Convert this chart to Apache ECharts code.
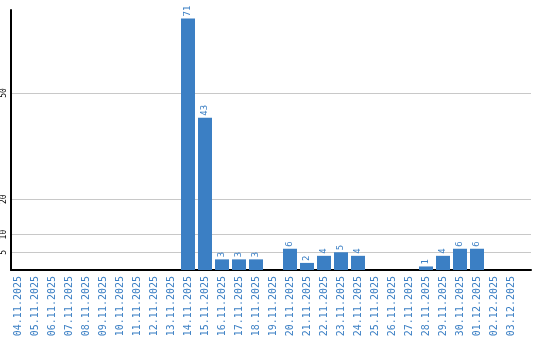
<!DOCTYPE html>
<html><head><meta charset="utf-8">
<script src="https://cdn.jsdelivr.net/npm/echarts@6/dist/echarts.min.js"></script>
<style>html,body{margin:0;padding:0;background:#fff}#c{width:540px;height:340px}</style>
</head><body><div id="c"></div>
<script>
const categories = ['04.11.2025','05.11.2025','06.11.2025','07.11.2025','08.11.2025','09.11.2025','10.11.2025','11.11.2025','12.11.2025','13.11.2025','14.11.2025','15.11.2025','16.11.2025','17.11.2025','18.11.2025','19.11.2025','20.11.2025','21.11.2025','22.11.2025','23.11.2025','24.11.2025','25.11.2025','26.11.2025','27.11.2025','28.11.2025','29.11.2025','30.11.2025','01.12.2025','02.12.2025','03.12.2025'];
const values = [0,0,0,0,0,0,0,0,0,0,71,43,3,3,3,0,6,2,4,5,4,0,0,0,1,4,6,6,0,0];
const yTicks = [5,10,20,50];
const yMax = 73.4;

const blue = '#3b7fc4';
const mono = 'DejaVu Sans Mono';
const chart = echarts.init(document.getElementById('c'), null, {renderer:'canvas'});
chart.setOption({
  animation:false,
  grid:[
    {left:10,right:9,top:10,bottom:70},
    {left:9.5,width:510,top:10,bottom:70}
  ],
  xAxis:[
    {gridIndex:0,type:'value',min:0,max:1,axisLine:{show:true,lineStyle:{color:'#000',width:2}},axisTick:{show:false},axisLabel:{show:false},splitLine:{show:false}},
    {gridIndex:1,type:'category',data:categories,axisLine:{show:false},axisTick:{show:false},
     axisLabel:{interval:0,rotate:90,color:blue,fontFamily:mono,fontSize:10,margin:6},splitLine:{show:false}}
  ],
  yAxis:[
    {gridIndex:0,type:'value',min:0,max:yMax,
     axisLine:{show:true,lineStyle:{color:'#000',width:2}},
     axisTick:{show:false,customValues:yTicks},
     axisLabel:{customValues:yTicks,rotate:90,color:'#000',fontFamily:mono,fontSize:8,margin:3},
     splitLine:{show:true,lineStyle:{color:'#c8c8c8',width:1}}},
    {gridIndex:1,type:'value',min:0,max:yMax,show:false,splitLine:{show:false}}
  ],
  series:[{
    type:'bar',xAxisIndex:1,yAxisIndex:1,data:values,barWidth:14,
    itemStyle:{color:blue},
    label:{show:true,position:'top',rotate:90,align:'left',verticalAlign:'middle',distance:2,
      color:blue,fontFamily:mono,fontSize:9,
      formatter:p=>p.value?String(p.value):''}
  }]
});
</script></body></html>
